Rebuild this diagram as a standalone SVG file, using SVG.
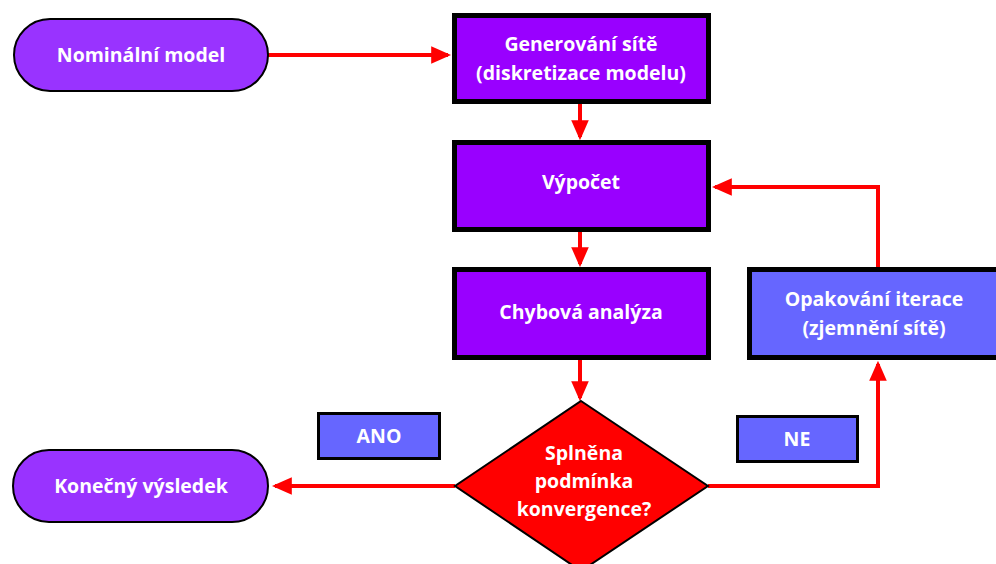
<svg xmlns="http://www.w3.org/2000/svg" width="996" height="564" viewBox="0 0 996 564">
<defs>
<marker id="ah" markerWidth="5" markerHeight="5" refX="4.2" refY="2.5" orient="auto" markerUnits="strokeWidth">
<path d="M0,0.3 L5,2.5 L0,4.7 z" fill="#FF0000"/>
</marker>
<style>
.pill{fill:#9933FF;stroke:#000;stroke-width:2}
.box{fill:#9900FF;stroke:#000;stroke-width:5}
.blue{fill:#6666FF;stroke:#000;stroke-width:5}
.tag{fill:#6666FF;stroke:#000;stroke-width:3}
.dia{fill:#FF0000;stroke:#000;stroke-width:2}
.t{font-family:"Open Sans","Liberation Sans",sans-serif;font-weight:bold;font-size:19.5px;fill:#fff;text-anchor:middle;dominant-baseline:central}
.c{fill:none;stroke:#FF0000;stroke-width:4;marker-end:url(#ah)}
</style>
</defs>
<rect width="996" height="564" fill="#fff"/>
<g id="connectors">
<path class="c" d="M268,55 H448"/>
<path class="c" d="M580,104 V137"/>
<path class="c" d="M580,232 V264"/>
<path class="c" d="M580,360 V398"/>
<path class="c" d="M878,268 V187 H715"/>
<path class="c" d="M708,486 H878 V364"/>
<path class="c" d="M455,486 H275"/>
</g>
<g id="nominal">
<rect class="pill" x="14" y="19" width="254" height="72" rx="36"/>
<text class="t" x="141" y="54">Nominální model</text>
</g>
<g id="generovani">
<rect class="box" x="454.5" y="15.5" width="254" height="86"/>
<text class="t" x="581" y="43">Generování sítě</text>
<text class="t" x="581" y="72">(diskretizace modelu)</text>
</g>
<g id="vypocet">
<rect class="box" x="454.5" y="142.5" width="254" height="87"/>
<text class="t" x="581" y="181">Výpočet</text>
</g>
<g id="chybova">
<rect class="box" x="454.5" y="269.5" width="254" height="88"/>
<text class="t" x="581" y="311">Chybová analýza</text>
</g>
<g id="opakovani">
<rect class="blue" x="749.5" y="269.5" width="250" height="88"/>
<text class="t" x="874" y="298">Opakování iterace</text>
<text class="t" x="874" y="327">(zjemnění sítě)</text>
</g>
<g id="podminka">
<polygon class="dia" points="581,401 708,486 581,571 455,486"/>
<text class="t" x="584" y="452">Splněna</text>
<text class="t" x="584" y="480">podmínka</text>
<text class="t" x="584" y="508">konvergence?</text>
</g>
<g id="konecny">
<rect class="pill" x="13" y="450" width="255" height="72" rx="36"/>
<text class="t" x="141" y="485">Konečný výsledek</text>
</g>
<g id="ano">
<rect class="tag" x="318.5" y="413.5" width="121" height="45"/>
<text class="t" x="379" y="435">ANO</text>
</g>
<g id="ne">
<rect class="tag" x="737.5" y="416.5" width="120" height="45"/>
<text class="t" x="797" y="438">NE</text>
</g>
</svg>
